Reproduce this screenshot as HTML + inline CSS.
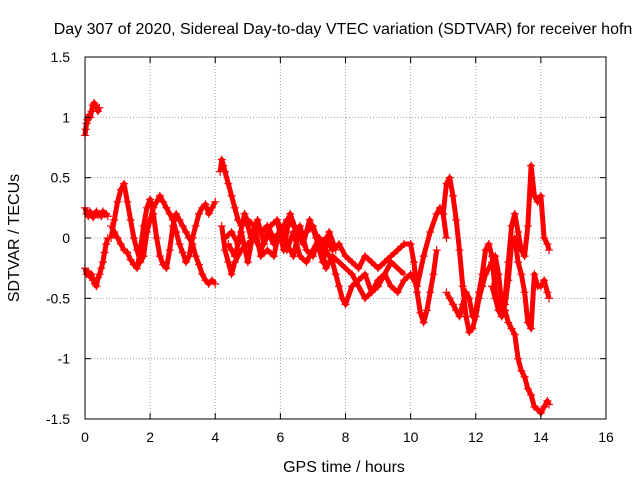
<!DOCTYPE html>
<html><head><meta charset="utf-8"><style>
body{margin:0;background:#fff}
svg{display:block;font-family:"Liberation Sans",sans-serif}
</style></head><body>
<svg id="chart" width="640" height="480">
<text x="343" y="34" text-anchor="middle" font-size="16">Day 307 of 2020, Sidereal Day-to-day VTEC variation (SDTVAR) for receiver hofn</text>
<text x="344" y="472" text-anchor="middle" font-size="16">GPS time / hours</text>
<text transform="translate(19,238) rotate(-90)" text-anchor="middle" font-size="16">SDTVAR / TECUs</text>
<g id="grid"></g><g id="marks"></g><g id="axes"></g>
</svg>
<script>
const xTicks=[0,2,4,6,8,10,12,14,16];
const yTicks=[1.5,1,0.5,0,-0.5,-1,-1.5];
const yTickLabels=["1.5","1","0.5","0","-0.5","-1","-1.5"];
const tA=[0,0.02,0.05,0.08,0.1,0.13,0.16,0.2,0.24,0.28,0.32,0.36,0.4,0.44];
const vA=[0.85,0.9,0.95,0.98,1.0,1.02,1.0,1.05,1.1,1.12,1.1,1.08,1.05,1.08];
const tB=[0,0.05,0.1,0.15,0.2,0.25,0.3,0.35,0.4,0.45,0.5,0.55,0.6,0.65,0.7];
const vB=[-0.25,-0.3,-0.28,-0.32,-0.3,-0.35,-0.38,-0.4,-0.33,-0.3,-0.25,-0.2,-0.12,-0.05,0.0];
const tC=[0,0.05,0.1,0.15,0.2,0.25,0.3,0.35,0.4,0.45,0.5,0.55,0.6,0.65,0.7];
const vC=[0.25,0.2,0.18,0.22,0.2,0.17,0.2,0.22,0.19,0.2,0.18,0.22,0.2,0.2,0.18];
const tD=[0.8,0.9,1.0,1.1,1.2,1.3,1.4,1.5,1.6,1.7,1.8,1.9,2.0,2.1,2.2,2.3,2.4,2.5,2.6,2.7,2.8,2.9,3.0,3.1,3.2,3.3,3.4,3.5,3.6,3.7,3.8,3.9,4.0];
const vD=[0.0,0.15,0.3,0.4,0.45,0.3,0.15,0.0,-0.1,-0.2,-0.15,0.05,0.15,0.25,0.3,0.35,0.3,0.25,0.2,0.15,0.05,-0.05,-0.12,-0.2,-0.15,0.0,0.1,0.2,0.25,0.28,0.2,0.25,0.3];
const tE=[0.8,0.9,1.0,1.1,1.2,1.3,1.4,1.5,1.6,1.7,1.8,1.9,2.0,2.1,2.2,2.3,2.4,2.5,2.6,2.7,2.8,2.9,3.0,3.1,3.2,3.3,3.4,3.5,3.6,3.7,3.8,3.9,4.0];
const vE=[0.1,0.05,0.0,-0.05,-0.1,-0.12,-0.18,-0.22,-0.25,-0.1,0.1,0.25,0.32,0.2,0.0,-0.15,-0.22,-0.25,-0.1,0.1,0.2,0.15,0.1,0.05,0.0,-0.05,-0.15,-0.22,-0.3,-0.35,-0.38,-0.35,-0.38];
const tF=[4.15,4.2,4.25,4.3,4.4,4.5,4.6,4.7,4.8,5.0,5.2,5.4,5.6,5.8,6.0,6.2,6.4,6.6,6.8,7.0,7.2,7.4,7.6,7.8,8.0,8.2,8.4,8.6,8.8,9.0,9.2,9.4,9.6,9.8,10.0,10.1,10.2,10.3,10.4,10.5,10.6,10.7,10.8];
const vF=[0.55,0.65,0.6,0.55,0.45,0.35,0.25,0.15,0.1,0.15,0.1,0.05,0.1,0.0,0.05,0.15,0.1,0.0,0.05,0.1,-0.05,0.0,-0.1,-0.05,-0.15,-0.2,-0.25,-0.15,-0.2,-0.25,-0.2,-0.15,-0.1,-0.05,-0.05,-0.2,-0.45,-0.62,-0.7,-0.6,-0.45,-0.3,-0.1];
const tG=[4.2,4.3,4.4,4.5,4.6,4.8,5.0,5.2,5.4,5.6,5.8,6.0,6.2,6.4,6.6,6.8,7.0,7.2,7.4,7.6,7.7,7.8,7.9,8.0,8.2,8.4,8.6,8.8,9.0,9.2,9.4,9.6,9.8,10.0,10.2,10.4,10.6,10.8,10.9,11.0,11.1];
const vG=[0.1,-0.1,-0.2,-0.3,-0.2,-0.1,-0.05,0.0,-0.1,0.05,-0.05,0.0,-0.1,0.05,-0.15,-0.2,-0.1,0.0,-0.1,-0.2,-0.3,-0.4,-0.5,-0.55,-0.4,-0.35,-0.3,-0.45,-0.35,-0.3,-0.4,-0.45,-0.35,-0.3,-0.4,-0.15,0.05,0.2,0.25,0.2,0.0];
const tH=[11.0,11.1,11.2,11.3,11.4,11.5,11.6,11.7,11.8,11.9,12.0,12.1,12.2,12.3,12.4,12.5,12.6,12.7,12.8,12.9,13.0,13.1,13.2,13.3,13.4,13.5,13.6,13.7,13.8,13.9,14.0,14.1,14.2,14.25];
const vH=[0.2,0.45,0.5,0.35,0.15,-0.1,-0.4,-0.65,-0.78,-0.75,-0.65,-0.5,-0.4,-0.3,-0.25,-0.2,-0.15,-0.3,-0.55,-0.6,-0.7,-0.75,-0.8,-1.0,-1.1,-1.15,-1.25,-1.3,-1.4,-1.42,-1.45,-1.4,-1.35,-1.38];
const tI=[11.1,11.2,11.3,11.4,11.5,11.6,11.7,11.8,11.9,12.0,12.1,12.2,12.3,12.4,12.5,12.6,12.7,12.8,12.9,13.0,13.1,13.2,13.3,13.4,13.5,13.6,13.7,13.8,13.9,14.0,14.1,14.2,14.25];
const vI=[-0.45,-0.5,-0.55,-0.6,-0.65,-0.55,-0.45,-0.5,-0.65,-0.6,-0.45,-0.3,-0.1,-0.05,-0.15,-0.45,-0.6,-0.65,-0.5,-0.2,0.1,0.2,0.05,-0.1,-0.15,0.1,0.6,0.35,0.3,0.35,0.0,-0.05,-0.1];
const tJ=[12.5,12.6,12.7,12.8,12.9,13.0,13.1,13.2,13.3,13.4,13.5,13.6,13.7,13.8,13.9,14.0,14.1,14.2,14.25];
const vJ=[-0.4,-0.5,-0.6,-0.65,-0.55,-0.35,-0.05,0.0,-0.2,-0.3,-0.45,-0.7,-0.75,-0.3,-0.4,-0.4,-0.35,-0.45,-0.5];
const tK=[4.3,4.5,4.7,4.9,5.1,5.3,5.5,5.7,5.9,6.1,6.3,6.5,6.7,6.9,7.1,7.3,7.5,7.7];
const vK=[0.0,0.05,-0.05,0.2,0.0,0.15,-0.05,0.1,0.15,-0.1,0.2,0.05,-0.05,0.15,0.0,-0.2,0.05,-0.1];
const tL=[4.4,4.6,4.8,5.0,5.2,5.4,5.6,5.8,6.0,6.2,6.4,6.6,6.8,7.0,7.2,7.4,7.6,8.2,8.6,9.0,9.4,9.8];
const vL=[-0.05,-0.15,0.05,-0.2,0.1,-0.15,-0.1,-0.15,0.1,-0.05,-0.15,0.1,-0.1,-0.15,0.0,-0.25,-0.15,-0.3,-0.5,-0.4,-0.2,-0.3];
const seriesT=[tA,tB,tC,tD,tE,tF,tG,tH,tI,tJ,tK,tL];
const seriesV=[vA,vB,vC,vD,vE,vF,vG,vH,vI,vJ,vK,vL];

const L=85,R=606,T=57,B=419;
const xs=t=>L+(t-0)/16*(R-L);
const ys=v=>B-(v+1.5)/3*(B-T);
const NS="http://www.w3.org/2000/svg";
function mk(tag,attrs,parent){const e=document.createElementNS(NS,tag);for(const k in attrs)e.setAttribute(k,attrs[k]);parent.appendChild(e);return e;}
const grid=document.getElementById('grid'),axes=document.getElementById('axes'),marks=document.getElementById('marks');
xTicks.forEach((t,i)=>{
  const x=xs(t);
  if(i>0&&i<xTicks.length-1){const g=mk('line',{x1:x,x2:x,y1:T,y2:B,stroke:'#a0a0a0','stroke-dasharray':'1,2'},grid);
  
  }
  mk('line',{x1:x,x2:x,y1:B,y2:B-6,stroke:'#000'},axes);
  mk('line',{x1:x,x2:x,y1:T,y2:T+6,stroke:'#000'},axes);
  const lb=mk('text',{x:x,y:B+23,'text-anchor':'middle','font-size':'14'},axes);lb.textContent=t;
  
  
});
yTicks.forEach((v,i)=>{
  const y=ys(v);
  if(i>0&&i<yTicks.length-1){const g=mk('line',{x1:L,x2:R,y1:y,y2:y,stroke:'#a0a0a0','stroke-dasharray':'1,2'},grid);
  
  }
  mk('line',{x1:L,x2:L+6,y1:y,y2:y,stroke:'#000'},axes);
  mk('line',{x1:R,x2:R-6,y1:y,y2:y,stroke:'#000'},axes);
  const lb=mk('text',{x:L-15,y:y+5,'text-anchor':'end','font-size':'14'},axes);lb.textContent=yTickLabels[i];
  
  
});
const fr=mk('rect',{x:L,y:T,width:R-L,height:B-T,fill:'none',stroke:'#000'},axes);


seriesT.forEach((ts,si)=>{
  const vs=seriesV[si];
  const pts=ts.map((t,i)=>xs(t)+','+ys(vs[i])).join(' ');
  const pl=mk('polyline',{points:pts,fill:'none',stroke:'#ff0000','stroke-width':'5','stroke-linejoin':'round'},marks);
  
  
  ts.forEach((t,i)=>{
    const x=xs(t),y=ys(vs[i]);
    const p=mk('path',{d:`M${x-4},${y}H${x+4}M${x},${y-4}V${y+4}`,stroke:'#ff0000','stroke-width':'1.2'},marks);
    
    
  });
});
</script>
</body></html>
